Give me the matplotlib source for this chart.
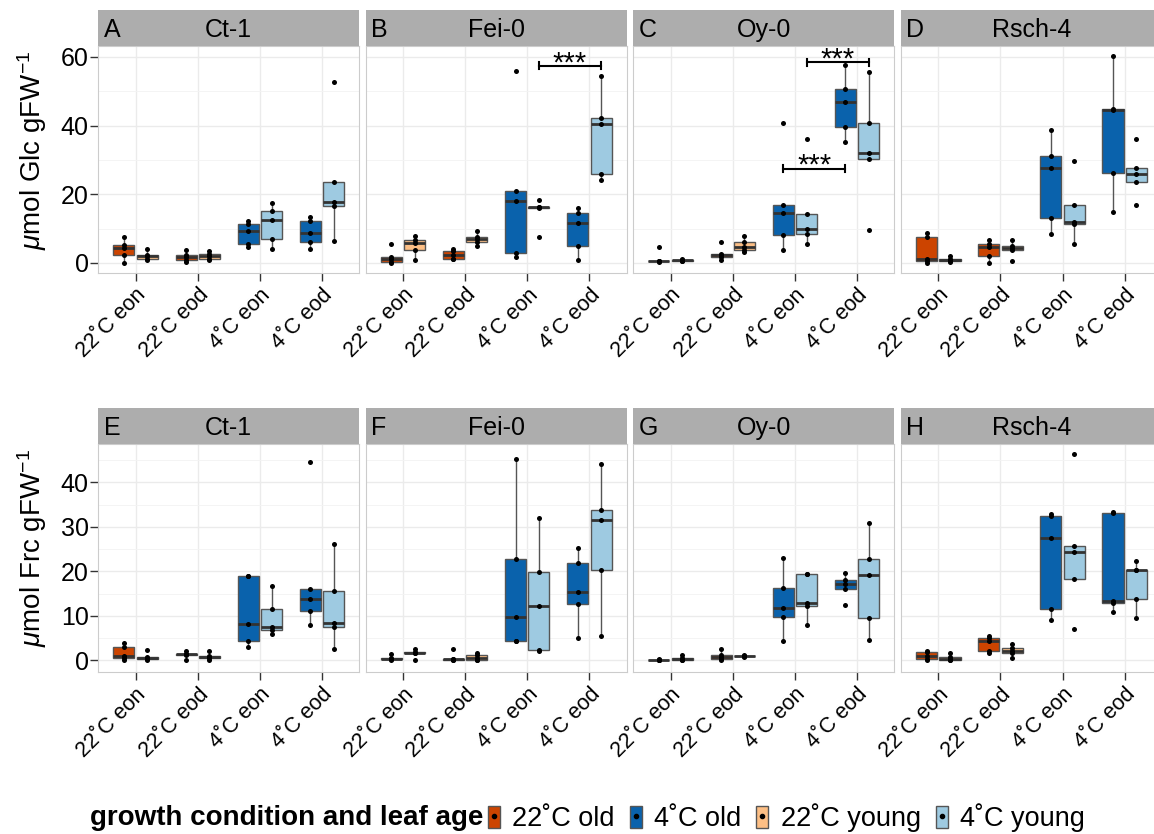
import numpy as np
import matplotlib
matplotlib.use('Agg')
import matplotlib.pyplot as plt
from matplotlib.patches import Patch
from matplotlib.lines import Line2D
from matplotlib.legend_handler import HandlerTuple
from matplotlib.ticker import MultipleLocator

plt.rcParams['font.family'] = ['Liberation Sans', 'DejaVu Sans']
plt.rcParams['mathtext.fontset'] = 'custom'
plt.rcParams['mathtext.rm'] = 'Liberation Sans'
plt.rcParams['mathtext.it'] = 'Liberation Sans:italic'

conditions = ['22˚C eon', '22˚C eod', '4˚C eon', '4˚C eod']
genotypes = ['Ct-1', 'Fei-0', 'Oy-0', 'Rsch-4']
letters = ['A', 'B', 'C', 'D', 'E', 'F', 'G', 'H']

# glucose (umol Glc gFW-1), one list per condition, old leaves / young leaves
glc_ct1_old = [[0, 2.4, 4.3, 5.2, 7.5], [0.3, 0.8, 1.7, 2.4, 3.9], [4.8, 5.5, 9.3, 11.4, 12.1], [4.2, 6.0, 8.8, 12.3, 13.4]]
glc_ct1_young = [[1.0, 1.3, 1.9, 2.4, 4.0], [1.0, 1.2, 1.9, 2.6, 3.4], [4.2, 7.1, 12.6, 15.1, 17.6], [6.3, 16.7, 17.9, 23.7, 52.6]]
glc_fei0_old = [[0.1, 0.3, 1.1, 1.75, 5.5], [1.1, 1.3, 2.4, 3.5, 4.2], [1.6, 2.9, 18.0, 20.9, 56.0], [1.0, 5.0, 11.7, 14.6, 15.9]]
glc_fei0_young = [[1.0, 3.9, 5.9, 6.8, 7.8], [4.9, 6.2, 6.9, 7.6, 9.2], [7.5, 16.0, 16.2, 16.4, 18.3], [24.3, 25.8, 40.5, 42.1, 54.6]]
glc_oy0_old = [[0.3, 0.5, 0.5, 0.6, 4.7], [0.8, 1.75, 2.2, 2.7, 6.1], [3.7, 8.2, 14.6, 16.8, 40.7], [35.1, 39.5, 47.0, 50.7, 57.7]]
glc_oy0_young = [[0.5, 0.7, 0.8, 0.9, 1.1], [3.1, 3.9, 4.8, 6.1, 7.8], [5.4, 8.3, 9.8, 14.4, 36.1], [9.7, 30.4, 32.1, 40.9, 55.5]]
glc_rsch4_old = [[0, 0.6, 1.3, 7.6, 8.8], [0.0, 1.9, 4.7, 5.6, 6.8], [8.3, 13.1, 27.6, 31.3, 38.8], [14.8, 26.3, 44.6, 44.8, 60.4]]
glc_rsch4_young = [[0.3, 0.6, 0.8, 1.2, 1.9], [0.6, 3.7, 4.3, 5.0, 6.8], [5.5, 11.5, 12.0, 16.9, 29.7], [16.8, 23.5, 25.9, 27.8, 36.1]]

# fructose (umol Frc gFW-1)
frc_ct1_old = [[0.1, 0.5, 1.1, 3.0, 4.0], [0.1, 1.3, 1.4, 1.5, 2.2], [3.0, 4.3, 8.1, 18.9, 19.0], [7.9, 11.1, 13.9, 16.0, 44.5]]
frc_ct1_young = [[0.1, 0.4, 0.6, 0.8, 2.3], [0.2, 0.5, 0.75, 1.1, 2.2], [5.9, 6.8, 7.4, 11.5, 16.8], [2.5, 7.6, 8.5, 15.6, 26.1]]
frc_fei0_old = [[0.0, 0.3, 0.4, 0.5, 1.4], [0.1, 0.2, 0.25, 0.3, 2.5], [4.3, 4.4, 9.8, 22.7, 45.3], [5.0, 12.7, 15.4, 21.9, 25.2]]
frc_fei0_young = [[0.2, 1.6, 1.7, 1.8, 2.6], [0.0, 0.1, 0.6, 1.3, 1.6], [2.2, 2.3, 12.3, 19.9, 32.0], [5.5, 20.4, 31.5, 33.7, 44.2]]
frc_oy0_old = [[0.05, 0.1, 0.15, 0.2, 0.3], [0.0, 0.4, 0.8, 1.3, 2.5], [4.4, 9.7, 11.8, 16.3, 23.0], [12.5, 16.1, 17.2, 18.1, 19.6]]
frc_oy0_young = [[0.1, 0.2, 0.3, 0.5, 1.3], [0.8, 0.9, 1.0, 1.1, 1.3], [8.0, 12.2, 13.0, 19.3, 19.4], [4.5, 9.6, 19.1, 22.8, 30.9]]
frc_rsch4_old = [[0.2, 0.4, 1.1, 1.9, 2.2], [1.7, 2.1, 4.3, 5.1, 5.5], [9.1, 11.5, 27.4, 32.4, 32.9], [10.9, 12.8, 13.3, 33.2, 33.3]]
frc_rsch4_young = [[0.1, 0.2, 0.4, 0.8, 1.7], [0.45, 1.6, 2.2, 2.7, 3.8], [7.0, 18.2, 24.3, 25.6, 46.4], [9.6, 13.7, 20.3, 20.4, 22.3]]

glc = [(glc_ct1_old, glc_ct1_young), (glc_fei0_old, glc_fei0_young),
       (glc_oy0_old, glc_oy0_young), (glc_rsch4_old, glc_rsch4_young)]
frc = [(frc_ct1_old, frc_ct1_young), (frc_fei0_old, frc_fei0_young),
       (frc_oy0_old, frc_oy0_young), (frc_rsch4_old, frc_rsch4_young)]

# significance brackets: genotype, condition from, condition to, age (0 old, 1 young), height
glc_signif = [(1, 2, 3, 1, 57.4), (2, 2, 3, 1, 58.4), (2, 2, 3, 0, 27.4)]

col_22_old = '#cc4400'
col_4_old = '#0a62ac'
col_22_young = '#fdbf85'
col_4_young = '#9ecae1'

W, H = 1154, 834
fig = plt.figure(figsize=(W / 100, H / 100), dpi=100)

lefts = [98.3, 365.7, 633.3, 901]
pw = 261
rows = [(46, 272.7), (444, 672)]
strip_h = 36
ylims = [(-2.83, 63.2), (-2.6, 48.6)]
ymajor = [20, 10]
yminor = [10, 5]
dodge = 0.1875

def draw_panel(ax, sets):
    for k in range(4):
        hot = k < 2
        for a in range(2):
            vals = sets[a][k]
            pos = k + 1 + (a * 2 - 1) * dodge
            if a == 0:
                col = col_22_old if hot else col_4_old
            else:
                col = col_22_young if hot else col_4_young
            ax.boxplot([vals], positions=[pos], widths=0.34, patch_artist=True,
                       showfliers=False, showcaps=False, whis=1.5, manage_ticks=False,
                       medianprops=dict(color='#333333', lw=2),
                       boxprops=dict(facecolor=col, edgecolor='#555555', lw=1),
                       whiskerprops=dict(color='#555555', lw=1), zorder=3)
            ax.scatter([pos] * len(vals), vals, s=13, color='black', zorder=4, lw=0)

for r in range(2):
    top, bot = rows[r]
    data = glc if r == 0 else frc
    for c in range(4):
        ax = fig.add_axes([lefts[c] / W, 1 - bot / H, pw / W, (bot - top) / H])
        sax = fig.add_axes([lefts[c] / W, 1 - top / H, pw / W, strip_h / H])
        sax.set_facecolor('#adadad')
        sax.set_xticks([])
        sax.set_yticks([])
        for s in sax.spines.values():
            s.set_visible(False)
        sax.text(0.02, 0.45, letters[r * 4 + c], ha='left', va='center', fontsize=18)
        sax.text(0.5, 0.45, genotypes[c], ha='center', va='center', fontsize=18)

        draw_panel(ax, data[c])
        ax.set_xlim(0.4, 4.6)
        ax.set_ylim(*ylims[r])
        ax.yaxis.set_major_locator(MultipleLocator(ymajor[r]))
        ax.yaxis.set_minor_locator(MultipleLocator(yminor[r]))
        ax.set_xticks([1, 2, 3, 4])
        ax.set_xticklabels(conditions, rotation=45, ha='right', va='top',
                           rotation_mode='anchor', fontsize=15.5)
        ax.set_axisbelow(True)
        ax.grid(which='major', color='#ebebeb', lw=1)
        ax.grid(which='minor', axis='y', color='#f3f3f3', lw=0.6)
        ax.tick_params(which='minor', length=0)
        ax.tick_params(which='major', length=5.5, width=1, color='#333333', pad=3)
        ax.tick_params(axis='y', labelsize=18, pad=1.5)
        if c > 0:
            ax.tick_params(left=False, labelleft=False)
        for s in ax.spines.values():
            s.set_color('#cccccc')
            s.set_linewidth(0.8)

        if r == 0:
            for g, k1, k2, a, yb in glc_signif:
                if g != c:
                    continue
                x1 = k1 + 1 + (a * 2 - 1) * dodge
                x2 = k2 + 1 + (a * 2 - 1) * dodge
                ax.plot([x1, x2], [yb, yb], color='black', lw=1.5, zorder=5)
                ax.plot([x1, x1], [yb - 1, yb + 1], color='black', lw=1.5, zorder=5)
                ax.plot([x2, x2], [yb - 1, yb + 1], color='black', lw=1.5, zorder=5)
                ax.text((x1 + x2) / 2, yb - 1.5, '***', ha='center', va='baseline',
                        fontsize=21, zorder=5)

fig.text(32 / W, 1 - 150 / H, r'$\mu$mol Glc gFW$^{-1}$', rotation=90,
         ha='center', va='center', fontsize=20)
fig.text(32 / W, 1 - 548 / H, r'$\mu$mol Frc gFW$^{-1}$', rotation=90,
         ha='center', va='center', fontsize=20)

# legend
legend_cols = [col_22_old, col_4_old, col_22_young, col_4_young]
legend_labels = ['22˚C old', '4˚C old', '22˚C young', '4˚C young']
handles = []
for col in legend_cols:
    p = Patch(facecolor=col, edgecolor='#555555', lw=1)
    m = Line2D([], [], marker='o', color='black', ms=3, ls='none')
    handles.append((p, m))
fig.text(483 / W, 1 - 818 / H, 'growth condition and leaf age', ha='right',
         va='center', fontsize=20, fontweight='bold')
fig.legend(handles, legend_labels, loc='center left',
           bbox_to_anchor=(488 / W, 1 - 818 / H), ncol=4, frameon=False,
           fontsize=19.5, handlelength=0.45, handleheight=0.9, handletextpad=0.45,
           columnspacing=0.55, borderaxespad=0, borderpad=0,
           handler_map={tuple: HandlerTuple(ndivide=1, pad=0)})

fig.savefig('out.png', dpi=100)
